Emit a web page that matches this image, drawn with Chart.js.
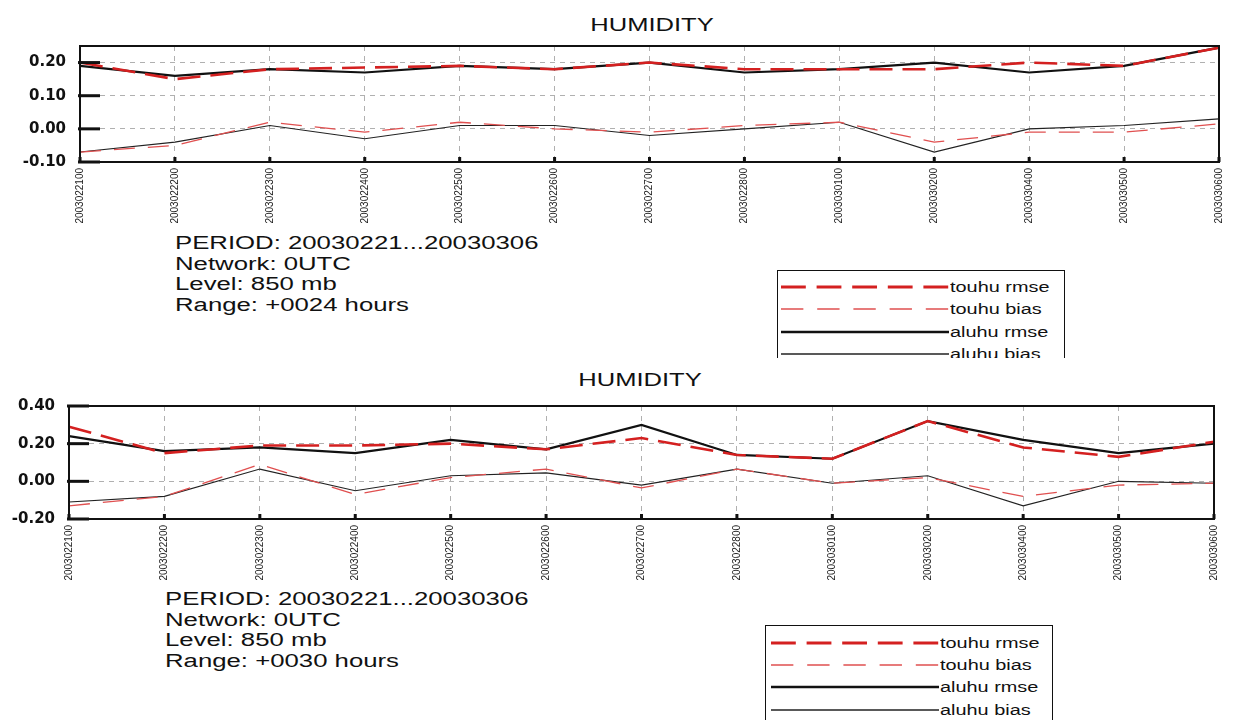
<!DOCTYPE html>
<html>
<head>
<meta charset="utf-8">
<title>HUMIDITY</title>
<script src="https://cdn.jsdelivr.net/npm/chart.js@4.4.1/dist/chart.umd.min.js"></script>
<style>
  html, body { margin: 0; padding: 0; background: #fff; }
  body { width: 1237px; height: 720px; position: relative; overflow: hidden;
         font-family: "Liberation Sans", Arial, sans-serif; color: #111; }
  canvas { position: absolute; left: 0; }
  .title { position: absolute; font-size: 18px; line-height: 18px; white-space: nowrap;
           transform: translateX(-50%) scaleX(1.42); transform-origin: center top; }
  .info { position: absolute; font-size: 18px; line-height: 20.7px; white-space: nowrap;
          transform: scaleX(1.43); transform-origin: left top; }
  .legend { position: absolute; width: 288px; border: 1.5px solid #111; border-bottom: none;
            box-sizing: border-box; overflow: hidden; background: #fff; }
  .legend .row { position: absolute; left: 0; height: 16px; width: 100%; }
  .legend svg { position: absolute; top: 5px; }
  .legend span { position: absolute; top: 0; font-size: 14px; line-height: 16px; white-space: nowrap;
                 transform: scaleX(1.42); transform-origin: left center; }
</style>
</head>
<body>

<div class="title" style="left:652px; top:16px;">HUMIDITY</div>
<canvas id="chart24" width="1237" height="224" style="top:0px;"></canvas>
<div class="info" style="left:175px; top:233px;">
  PERIOD: 20030221...20030306<br>Network: 0UTC<br>Level: 850 mb<br>Range: +0024 hours
</div>
<div class="legend" id="legend24" style="left:777px; top:270px; height:88px;"></div>

<div class="title" style="left:640px; top:371px;">HUMIDITY</div>
<canvas id="chart30" width="1237" height="221" style="top:360px;"></canvas>
<div class="info" style="left:165px; top:589px;">
  PERIOD: 20030221...20030306<br>Network: 0UTC<br>Level: 850 mb<br>Range: +0030 hours
</div>
<div class="legend" id="legend30" style="left:765px; top:625px; height:95px;"></div>

<script>
// tanggal (kategori sumbu x)
const dates = ['2003022100', '2003022200', '2003022300', '2003022400', '2003022500', '2003022600',
               '2003022700', '2003022800', '2003030100', '2003030200', '2003030400', '2003030500',
               '2003030600'];

// Range +0024 hours
const touhuRmse24 = [0.20, 0.15, 0.18, 0.185, 0.19, 0.18, 0.20, 0.18, 0.18, 0.18, 0.20, 0.19, 0.245];
const touhuBias24 = [-0.07, -0.05, 0.02, -0.01, 0.02, 0.00, -0.01, 0.01, 0.02, -0.04, -0.01, -0.01, 0.015];
const aluhuRmse24 = [0.19, 0.16, 0.18, 0.17, 0.19, 0.18, 0.20, 0.17, 0.18, 0.20, 0.17, 0.19, 0.245];
const aluhuBias24 = [-0.07, -0.04, 0.01, -0.03, 0.01, 0.01, -0.02, 0.00, 0.02, -0.07, 0.00, 0.01, 0.03];

// Range +0030 hours
const touhuRmse30 = [0.29, 0.15, 0.19, 0.19, 0.20, 0.17, 0.23, 0.14, 0.12, 0.32, 0.18, 0.13, 0.21];
const touhuBias30 = [-0.13, -0.08, 0.09, -0.07, 0.02, 0.065, -0.035, 0.065, -0.01, 0.02, -0.08, -0.02, -0.01];
const aluhuRmse30 = [0.24, 0.16, 0.18, 0.15, 0.22, 0.17, 0.30, 0.14, 0.12, 0.32, 0.22, 0.15, 0.20];
const aluhuBias30 = [-0.11, -0.08, 0.065, -0.05, 0.03, 0.045, -0.02, 0.065, -0.01, 0.03, -0.13, 0.00, -0.01];

const seriesLabels = ['touhu rmse', 'touhu bias', 'aluhu rmse', 'aluhu bias'];

// bingkai plot + tanda tick di dalam area
const framePlugin = {
    id: 'frame',
    afterDraw(chart) {
        const { ctx, chartArea: a, scales } = chart;
        ctx.save();
        ctx.strokeStyle = '#111';
        ctx.lineWidth = 2;
        ctx.strokeRect(a.left, a.top, a.right - a.left, a.bottom - a.top);
        ctx.lineWidth = 3;
        scales.y.ticks.forEach((t, i) => {
            const y = scales.y.getPixelForTick(i);
            ctx.beginPath();
            ctx.moveTo(a.left - 2, y);
            ctx.lineTo(a.left + 20, y);
            ctx.stroke();
        });
        ctx.fillStyle = '#111';
        scales.x.ticks.forEach((t, i) => {
            const x = scales.x.getPixelForTick(i);
            ctx.fillRect(x - 1.5, a.bottom - 5, 3, 5);
        });
        ctx.restore();
    }
};

// legend HTML dari dataset (garis menyambung ke teks)
function buildLegend(chart, containerId, lineLeft, firstRow) {
    const box = document.getElementById(containerId);
    const lineLen = 168;
    chart.data.datasets.forEach((ds, i) => {
        const row = document.createElement('div');
        row.className = 'row';
        row.style.top = (firstRow + i * 22.4 - 8) + 'px';
        let dash = 'none';
        if (ds.borderDash && ds.borderDash.length) {
            // sesuaikan pola supaya diawali dan diakhiri garis penuh
            const on = ds.borderDash[0], off = ds.borderDash[1];
            const n = Math.round((lineLen + off) / (on + off));
            const s = (lineLen + off) / (n * (on + off));
            dash = (on * s).toFixed(2) + ' ' + (off * s).toFixed(2);
        }
        row.innerHTML =
            '<svg width="' + lineLen + '" height="6" style="left:' + lineLeft + 'px">' +
            '<line x1="0" y1="3" x2="' + lineLen + '" y2="3" stroke="' + ds.borderColor + '" stroke-width="' +
            (ds.borderWidth + 0.4) + '" stroke-dasharray="' + dash + '"/></svg>' +
            '<span style="left:' + (lineLeft + lineLen + 1) + 'px">' + ds.label + '</span>';
        box.appendChild(row);
    });
}

function createHumidityChart(canvasId, values, yMin, yMax, yStep, yWidth, padRight) {
    const ctx = document.getElementById(canvasId).getContext('2d');
    return new Chart(ctx, {
        type: 'line',
        data: {
            labels: dates,
            datasets: [
                { label: seriesLabels[0], data: values[0], borderColor: '#d42020', borderWidth: 2.6, borderDash: [23, 10] },
                { label: seriesLabels[1], data: values[1], borderColor: '#e05050', borderWidth: 1.3, borderDash: [21, 13] },
                { label: seriesLabels[2], data: values[2], borderColor: '#111111', borderWidth: 2.2, borderDash: [] },
                { label: seriesLabels[3], data: values[3], borderColor: '#222222', borderWidth: 1.1, borderDash: [] }
            ].map(ds => Object.assign(ds, { pointRadius: 0, tension: 0, fill: false }))
        },
        options: {
            responsive: false,
            animation: false,
            devicePixelRatio: 1,
            layout: { padding: { top: 46, right: padRight, left: 0, bottom: 0 } },
            plugins: {
                legend: { display: false },
                tooltip: { enabled: false }
            },
            scales: {
                x: {
                    afterFit: axis => { axis.height = 62; },
                    grid: { color: '#b0b0b0', lineWidth: 1, drawTicks: false },
                    border: { display: false, dash: [5, 5] },
                    ticks: {
                        autoSkip: false,
                        maxRotation: 90,
                        minRotation: 90,
                        padding: 6,
                        color: '#222',
                        font: { family: '"Liberation Sans", Arial, sans-serif', size: 10 }
                    }
                },
                y: {
                    min: yMin,
                    max: yMax,
                    afterFit: axis => { axis.width = yWidth; },
                    afterBuildTicks: axis => {
                        axis.ticks = axis.ticks.filter(t => Math.abs(t.value / yStep - Math.round(t.value / yStep)) < 1e-6);
                    },
                    grid: { color: '#b0b0b0', lineWidth: 1, drawTicks: false },
                    border: { display: false, dash: [5, 5] },
                    ticks: {
                        stepSize: yStep,
                        padding: 14,
                        color: '#111',
                        font: { family: '"DejaVu Sans", sans-serif', size: 15, weight: 'bold' },
                        callback: v => Number(v).toFixed(2)
                    }
                }
            }
        },
        plugins: [framePlugin]
    });
}

const chart24 = createHumidityChart('chart24', [touhuRmse24, touhuBias24, aluhuRmse24, aluhuBias24],
    -0.10, 0.25, 0.1, 80, 11);
const chart30 = createHumidityChart('chart30', [touhuRmse30, touhuBias30, aluhuRmse30, aluhuBias30],
    -0.20, 0.40, 0.2, 69, 23);

buildLegend(chart24, 'legend24', 3, 16);
buildLegend(chart30, 'legend30', 5, 16.5);
</script>
</body>
</html>
